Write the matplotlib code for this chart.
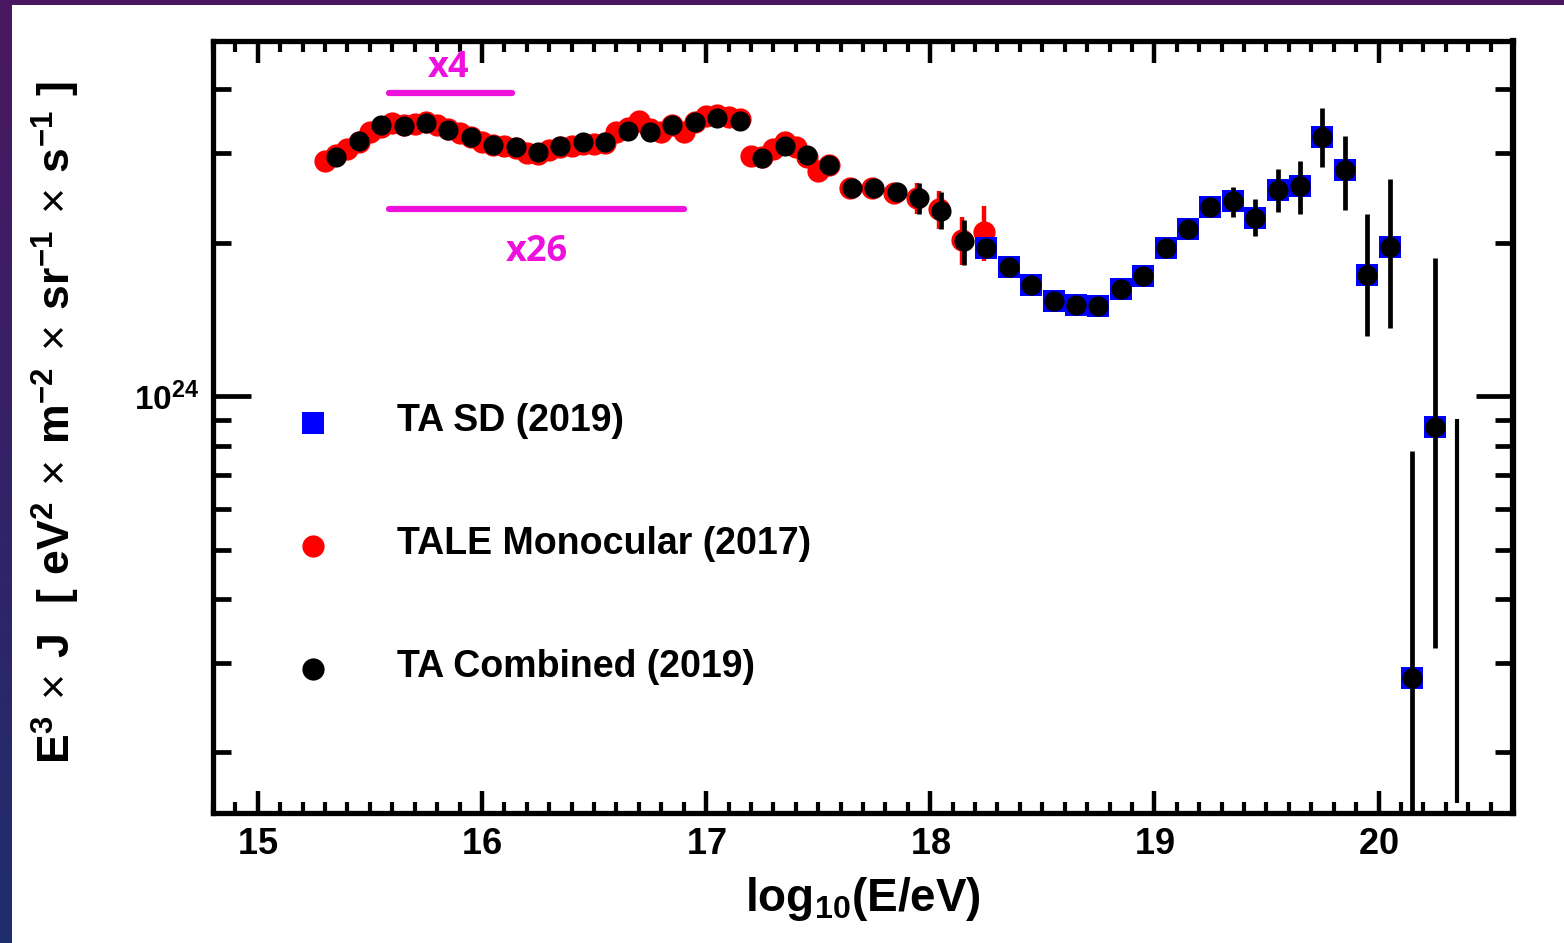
import numpy as np
import matplotlib
matplotlib.use("Agg")
import matplotlib.pyplot as plt
from matplotlib import font_manager
from matplotlib.patches import Rectangle
from matplotlib.ticker import LogLocator, MultipleLocator, FuncFormatter, NullFormatter


def first_font(names):
    for name in names:
        try:
            font_manager.findfont(font_manager.FontProperties(family=name),
                                  fallback_to_default=False)
            return name
        except ValueError:
            continue
    return "DejaVu Sans"


NARROW = first_font(["Liberation Sans Narrow", "Liberation Sans"])
SANS = first_font(["Liberation Sans", "DejaVu Sans"])
NOTE = first_font(["Open Sans", "Liberation Sans"])

plt.rcParams["mathtext.fontset"] = "custom"
plt.rcParams["mathtext.rm"] = SANS
plt.rcParams["mathtext.bf"] = SANS + ":bold"
plt.rcParams["mathtext.sf"] = NARROW + ":bold"

SCALE = 1e24  # flux values below are in units of 10^24 eV^2 m^-2 sr^-1 s^-1

# TA Combined (2019)
comb_x = [15.35, 15.45, 15.55, 15.65, 15.75, 15.85, 15.95, 16.05, 16.15, 16.25,
          16.35, 16.45, 16.55, 16.65, 16.75, 16.85, 16.95, 17.05, 17.15, 17.25,
          17.35, 17.45, 17.55, 17.65, 17.75, 17.85, 17.95, 18.05, 18.15, 18.25,
          18.35, 18.45, 18.55, 18.65, 18.75, 18.85, 18.95, 19.05, 19.15, 19.25,
          19.35, 19.45, 19.55, 19.65, 19.75, 19.85, 19.95, 20.05, 20.15, 20.25]
comb_y = [2.95, 3.17, 3.41, 3.39, 3.44, 3.33, 3.23, 3.11, 3.08, 3.02,
          3.10, 3.16, 3.16, 3.32, 3.30, 3.41, 3.45, 3.52, 3.47, 2.94,
          3.10, 2.98, 2.84, 2.56, 2.56, 2.52, 2.45, 2.31, 2.02, 1.95,
          1.79, 1.65, 1.54, 1.51, 1.50, 1.62, 1.72, 1.95, 2.13, 2.35,
          2.42, 2.24, 2.54, 2.59, 3.23, 2.78, 1.73, 1.96, 0.28, 0.87]
comb_lo = [0.02, 0.02, 0.02, 0.02, 0.02, 0.02, 0.02, 0.02, 0.02, 0.02,
           0.02, 0.02, 0.02, 0.02, 0.02, 0.02, 0.02, 0.02, 0.02, 0.03,
           0.03, 0.04, 0.05, 0.04, 0.05, 0.07, 0.17, 0.18, 0.21, 0.03,
           0.03, 0.03, 0.03, 0.03, 0.04, 0.04, 0.05, 0.06, 0.07, 0.09,
           0.17, 0.18, 0.24, 0.31, 0.41, 0.46, 0.42, 0.60, 0.18, 0.55]
comb_hi = [0.02, 0.02, 0.02, 0.02, 0.02, 0.02, 0.02, 0.02, 0.02, 0.02,
           0.02, 0.02, 0.02, 0.02, 0.02, 0.02, 0.02, 0.02, 0.02, 0.03,
           0.03, 0.04, 0.05, 0.04, 0.05, 0.07, 0.17, 0.21, 0.20, 0.03,
           0.03, 0.03, 0.03, 0.03, 0.04, 0.04, 0.05, 0.06, 0.07, 0.09,
           0.16, 0.20, 0.25, 0.31, 0.45, 0.46, 0.55, 0.71, 0.50, 1.00]

# last bin: error band only, no central value inside the frame
limit_x = [20.35]
limit_lo = [0.159]
limit_hi = [0.901]

# TA SD (2019)
sd_x = [18.25, 18.35, 18.45, 18.55, 18.65, 18.75, 18.85, 18.95, 19.05, 19.15,
        19.25, 19.35, 19.45, 19.55, 19.65, 19.75, 19.85, 19.95, 20.05, 20.15,
        20.25]
sd_y = [1.95, 1.79, 1.65, 1.54, 1.51, 1.50, 1.62, 1.72, 1.95, 2.13,
        2.35, 2.42, 2.24, 2.54, 2.59, 3.23, 2.78, 1.73, 1.96, 0.28,
        0.87]

# TALE Monocular (2017)
tale_x = [15.30, 15.35, 15.40, 15.45, 15.50, 15.55, 15.60, 15.65, 15.70, 15.75,
          15.80, 15.85, 15.90, 15.95, 16.00, 16.05, 16.10, 16.15, 16.20, 16.25,
          16.30, 16.35, 16.40, 16.45, 16.50, 16.55, 16.60, 16.65, 16.70, 16.75,
          16.80, 16.85, 16.90, 16.95, 17.00, 17.05, 17.10, 17.15, 17.20, 17.25,
          17.30, 17.35, 17.40, 17.45, 17.50, 17.55, 17.64, 17.74, 17.84, 17.94,
          18.04, 18.14, 18.24]
tale_y = [2.90, 2.98, 3.05, 3.16, 3.30, 3.38, 3.44, 3.41, 3.42, 3.45,
          3.40, 3.34, 3.29, 3.22, 3.16, 3.11, 3.10, 3.07, 3.00, 2.99,
          3.04, 3.08, 3.10, 3.12, 3.12, 3.14, 3.30, 3.36, 3.47, 3.34,
          3.30, 3.40, 3.30, 3.46, 3.55, 3.56, 3.54, 3.50, 2.96, 2.95,
          3.05, 3.16, 3.08, 2.95, 2.77, 2.84, 2.56, 2.56, 2.51, 2.45,
          2.33, 2.03, 2.10]
tale_err = [0.02, 0.02, 0.02, 0.02, 0.02, 0.02, 0.02, 0.02, 0.02, 0.02,
            0.02, 0.02, 0.02, 0.02, 0.02, 0.02, 0.02, 0.02, 0.02, 0.02,
            0.02, 0.02, 0.02, 0.02, 0.02, 0.02, 0.02, 0.02, 0.02, 0.02,
            0.02, 0.02, 0.02, 0.02, 0.02, 0.02, 0.02, 0.02, 0.02, 0.02,
            0.03, 0.03, 0.04, 0.04, 0.08, 0.06, 0.04, 0.04, 0.06, 0.17,
            0.20, 0.22, 0.26]

# energy ranges with fluorescence-mode weights
range_x4 = [15.585, 16.135]
range_x26 = [15.585, 16.90]
level_x4 = 3.94
level_x26 = 2.33

legend_labels = ["TA SD (2019)", "TALE Monocular (2017)", "TA Combined (2019)"]

MAGENTA = "#ee11dd"


def scaled(vals):
    return np.asarray(vals) * SCALE


fig = plt.figure(figsize=(15.64, 9.43), dpi=100)

# dark frame strip along the top and left edge
bg = fig.add_axes([0, 0, 1, 1], zorder=-10)
top_col = np.array([0.29, 0.09, 0.38])
bot_col = np.array([0.12, 0.18, 0.43])
t = np.linspace(0, 1, 256)[:, None]
grad = top_col[None, :] * (1 - t) + bot_col[None, :] * t
bg.imshow(grad[:, None, :], extent=[0, 1, 0, 1], aspect="auto")
bg.add_patch(Rectangle((12 / 1564, 0), 1, 1 - 5 / 943, transform=bg.transAxes,
                       facecolor="white", edgecolor="none"))
bg.set_xlim(0, 1)
bg.set_ylim(0, 1)
bg.axis("off")

ax = fig.add_axes([213 / 1564, 130 / 943, 1300 / 1564, 772 / 943])

ax.errorbar(tale_x, scaled(tale_y), yerr=scaled(tale_err), fmt="o", color="red",
            ms=16, mew=0, elinewidth=3.2, capsize=0, zorder=2)
ax.plot(sd_x, scaled(sd_y), "s", color="blue", ms=16, mew=0, zorder=3)
ax.errorbar(comb_x, scaled(comb_y), yerr=[scaled(comb_lo), scaled(comb_hi)],
            fmt="o", color="black", ms=14.5, mew=0, elinewidth=3.4, capsize=0,
            zorder=4)
ax.vlines(limit_x, scaled(limit_lo), scaled(limit_hi), color="black", lw=3.0,
          zorder=4)

# weight ranges
ax.plot(range_x4, scaled([level_x4, level_x4]), color=MAGENTA, lw=4.5,
        solid_capstyle="round", zorder=5)
ax.plot(range_x26, scaled([level_x26, level_x26]), color=MAGENTA, lw=4.5,
        solid_capstyle="round", zorder=5)
ax.text(15.85, 4.41 * SCALE, "x4", color=MAGENTA, fontsize=26, fontweight="bold",
        family=NOTE, ha="center", va="center")
ax.text(16.245, 1.92 * SCALE, "x26", color=MAGENTA, fontsize=26, fontweight="bold",
        family=NOTE, ha="center", va="center")

# hand-placed legend
leg_y = [0.505, 0.346, 0.1865]
leg_style = [dict(marker="s", color="blue"), dict(marker="o", color="red"),
             dict(marker="o", color="black")]
for yy, label, st in zip(leg_y, legend_labels, leg_style):
    ax.plot([0.0769], [yy], transform=ax.transAxes, ms=16, mew=0, ls="none",
            clip_on=False, **st)
    ax.text(0.1415, yy + 0.003, label, transform=ax.transAxes, fontsize=27,
            fontweight="bold", family=SANS, ha="left", va="center")

ax.set_xlim(14.8, 20.6)
ax.set_yscale("log")
ax.set_ylim(1.52e23, 4.98e24)

ax.xaxis.set_major_locator(MultipleLocator(1))
ax.xaxis.set_minor_locator(MultipleLocator(0.1))
ax.xaxis.set_major_formatter(FuncFormatter(lambda v, p: r"$\mathsf{%d}$" % round(v)))
ax.yaxis.set_major_locator(LogLocator(base=10))
ax.yaxis.set_minor_locator(LogLocator(base=10, subs=np.arange(2, 10)))
ax.yaxis.set_major_formatter(
    FuncFormatter(lambda v, p: r"$\mathsf{10^{%d}}$" % round(np.log10(v))))
ax.yaxis.set_minor_formatter(NullFormatter())

ax.tick_params(axis="x", which="both", direction="in", top=True, bottom=True,
               labelsize=26, pad=10)
ax.tick_params(axis="x", which="major", length=16, width=3.2)
ax.tick_params(axis="x", which="minor", length=8, width=3.0)
ax.tick_params(axis="y", which="both", direction="in", left=True, right=True,
               labelsize=24, pad=10)
ax.tick_params(axis="y", which="major", length=27, width=3.4)
ax.tick_params(axis="y", which="minor", length=13, width=3.4)

for side in ax.spines.values():
    side.set_linewidth(3.8)
ax.spines["right"].set_linewidth(4.5)

ax.set_xlabel(r"$\mathsf{log_{10}(E/eV)}$", fontsize=33, labelpad=10)
fig.text(0.036, 0.552,
         r"$\mathbf{E^{3}}\,\times\,\mathbf{J}\ \ \mathbf{[}\ \mathbf{eV^{2}}\,\times\,"
         r"\mathbf{m^{-2}}\,\times\,\mathbf{sr^{-1}}\,\times\,\mathbf{s^{-1}}\ \mathbf{]}$",
         rotation=90, ha="center", va="center", fontsize=32)

fig.savefig("out.png", dpi=100)
